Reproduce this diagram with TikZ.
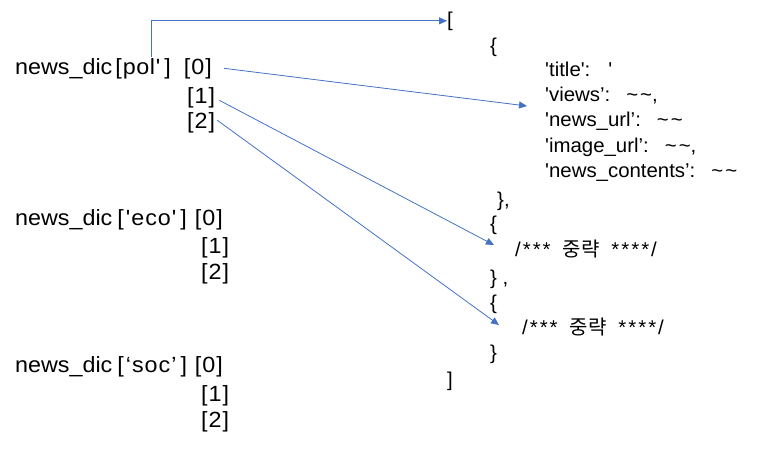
\documentclass[tikz,border=0pt]{standalone}
\usepackage{fontspec}
\usetikzlibrary{arrows.meta}
\newfontfamily\gul{Liberation Sans}[FakeStretch=1.06]
\newfontfamily\gulj{Liberation Sans}[FakeStretch=1.02]
\newfontfamily\kr{Noto Sans CJK KR}
\definecolor{arrblue}{HTML}{4472C4}
\newcommand{\tl}{\textasciitilde\kern2pt\textasciitilde}
\newcommand{\idx}[1]{[\kern1pt#1\kern1pt]}
\newcommand{\omitted}{/\kern2pt*\kern2pt*\kern2pt*\hspace{12pt}{\kr 중략}\hspace{12pt}*\kern2pt*\kern2pt*\kern2pt*\kern2pt/}
\tikzset{
  txt/.style={anchor=base west, inner sep=0pt, font=\gul\fontsize{22}{26}\selectfont, text=black},
  json/.style={anchor=base west, inner sep=0pt, font=\gulj\fontsize{20}{24}\selectfont, text=black},
  arr/.style={draw=arrblue, line width=0.8pt, -{Triangle[length=8pt,width=7pt]}}
}
\begin{document}
\begin{tikzpicture}[x=1pt,y=-1pt]
\useasboundingbox (0,0) rectangle (762,450);
% left column
\node[txt] (pol) at (15,74) {news\_dic\hspace{3pt}[\kern1pt p\kern0.5pt o\kern0.5pt l\kern1pt'\hspace{4pt}]\hspace{13pt}\idx{0}};
\node[txt] (one) at (187,103) {\idx{1}};
\node[txt] (two) at (187,128) {\idx{2}};
\node[txt] (eco) at (15,225) {news\_dic\hspace{5pt}[\hspace{2pt}'\kern1pt e\kern1pt c\kern1pt o\kern1pt'\hspace{4pt}]\hspace{8pt}\idx{0}};
\node[txt] (ecoone) at (201,253) {\idx{1}};
\node[txt] (ecotwo) at (201,279) {\idx{2}};
\node[txt] (soc) at (15,372) {news\_dic\hspace{5pt}[\hspace{2pt}‘\kern1pt s\kern1pt o\kern1pt c\kern1pt’\hspace{4pt}]\hspace{8pt}\idx{0}};
\node[txt] (socone) at (201,401) {\idx{1}};
\node[txt] (soctwo) at (201,427) {\idx{2}};
% right column
\node[json] (open) at (447,26) {[};
\node[json] (b1o) at (490,52) {\{};
\node[json] (title) at (545,76) {'title':\hspace{18pt}'};
\node[json] (views) at (545,101) {'views’:\hspace{16pt}\tl,};
\node[json] (url) at (545,126) {'news\_url’:\hspace{16pt}\tl};
\node[json] (img) at (545,152) {'image\_url’:\hspace{16pt}\tl,};
\node[json] (cont) at (545,177) {'news\_contents’:\hspace{16pt}\tl};
\node[json] (b1c) at (497,206) {\},};
\node[json] (b2o) at (490,230) {\{};
\node[json] (om1) at (515,256) {\omitted};
\node[json] (b2c) at (490,284) {\}\ ,};
\node[json] (b3o) at (490,309) {\{};
\node[json] (om2) at (522,334) {\omitted};
\node[json] (b3c) at (490,359) {\}};
\node[json] (close) at (447,386) {]};
% arrow targets
\coordinate (t0) at (527,106);
\coordinate (t1) at (494,245);
\coordinate (t2) at (499,325);
\coordinate (s0) at (151,57);
% connectors
\draw[arr] (s0) |- (open.west);
\draw[arr] ([xshift=12pt]pol.east) -- (t0);
\draw[arr] ([xshift=4pt,yshift=-3pt]one.east) -- (t1);
\draw[arr] ([xshift=2pt,yshift=2pt]two.east) -- (t2);
\end{tikzpicture}
\end{document}
